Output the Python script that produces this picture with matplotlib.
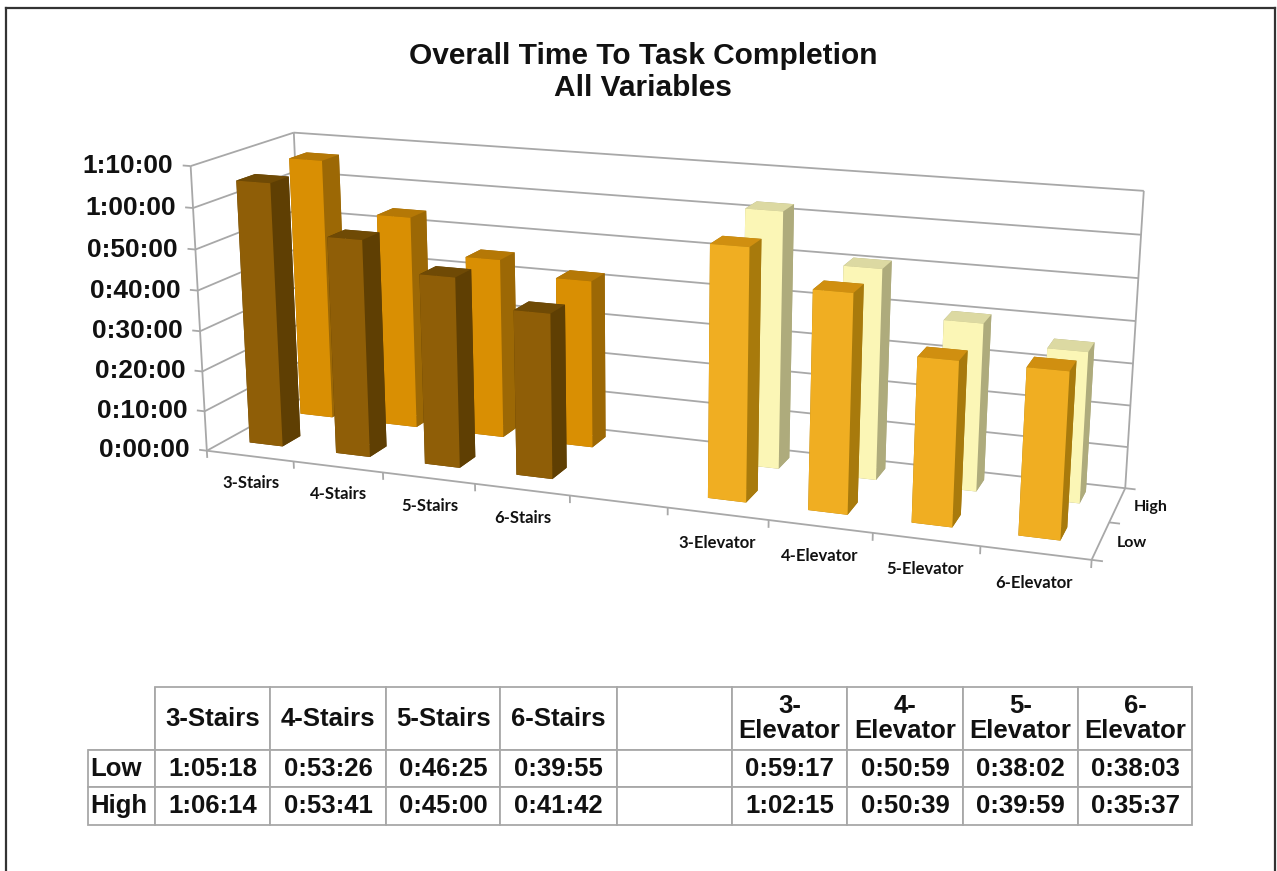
import numpy as np
import matplotlib
matplotlib.use("Agg")
import matplotlib.pyplot as plt
from matplotlib.lines import Line2D
from mpl_toolkits.mplot3d.art3d import Line3DCollection

plt.rcParams['font.family'] = ['Liberation Sans', 'DejaVu Sans']

# table / chart data
categories = ['3-Stairs', '4-Stairs', '5-Stairs', '6-Stairs', '',
              '3-Elevator', '4-Elevator', '5-Elevator', '6-Elevator']
series_names = ['Low', 'High']
low_times = ['1:05:18', '0:53:26', '0:46:25', '0:39:55', '',
             '0:59:17', '0:50:59', '0:38:02', '0:38:03']
high_times = ['1:06:14', '0:53:41', '0:45:00', '0:41:42', '',
              '1:02:15', '0:50:39', '0:39:59', '0:35:37']
axis_ticks = ['0:00:00', '0:10:00', '0:20:00', '0:30:00',
              '0:40:00', '0:50:00', '1:00:00', '1:10:00']


def to_seconds(t):
    h, m, s = t.split(':')
    return int(h) * 3600 + int(m) * 60 + int(s)


# colours: (front, top, side)
colors = {
    ('stairs', 'Low'): ('#8f5e07', '#6f4a05', '#5f3f03'),
    ('stairs', 'High'): ('#d98f03', '#b57806', '#9c6805'),
    ('elev', 'Low'): ('#f0ae22', '#d08f10', '#a87a0c'),
    ('elev', 'High'): ('#fbf6b6', '#dcd9a2', '#aeab7c'),
}

W, H = 1277, 871
zmax = to_seconds(axis_ticks[-1])
nx = len(categories)

fig = plt.figure(figsize=(W / 100, H / 100), dpi=100, facecolor='white')
ax = fig.add_axes([0, 0, 1, 1], projection='3d', computed_zorder=False)
ax.set_axis_off()
ax.patch.set_visible(False)
ax.set_xticks([])
ax.set_yticks([])
ax.set_zticks([])

# the Excel chart's camera: fit a projective map to where the box corners
# and the category ticks land
box = [(0, 0, 0), (nx, 0, 0), (0, 2, 0), (nx, 2, 0),
       (0, 0, zmax), (nx, 0, zmax), (0, 2, zmax), (nx, 2, zmax),
       (1, 0, 0), (2, 0, 0), (3, 0, 0), (4, 0, 0),
       (5, 0, 0), (6, 0, 0), (7, 0, 0), (8, 0, 0)]
pix = [(207, 450), (1093, 559), (307, 402), (1125, 486),
       (192, 163), (1111, 244), (293, 132), (1143, 187),
       (293, 460), (383, 472), (474, 484), (568, 495),
       (667, 507), (768, 520), (873, 533), (982, 546)]
A, b = [], []
for (x, y, z), (u, v) in zip(box, pix):
    A.append([x, y, z, 1, 0, 0, 0, 0, -u * x, -u * y, -u * z])
    A.append([0, 0, 0, 0, x, y, z, 1, -v * x, -v * y, -v * z])
    b += [u, v]
h = np.linalg.lstsq(np.array(A, float), np.array(b, float), rcond=None)[0]
M = np.array([h[0:4], h[4:8],
              [-0.1, 1.0, -0.2 / zmax, 0.0],
              [h[8], h[9], h[10], 1.0]])
ax.get_proj = lambda: M
ax.apply_aspect = lambda position=None: None
ax._viewLim.intervalx = (0, W)
ax._viewLim.intervaly = (H, 0)


def label(x, y, z, s, **kw):
    p = M @ np.array([x, y, z, 1.0])
    ax.text2D(p[0] / p[3], p[1] / p[3], s, transform=ax.transData,
              fontweight='bold', color='#111111', **kw)


grid = '#a8a8a8'
lw = 1.3

# walls, gridlines
segs = []
for t in axis_ticks:
    z = to_seconds(t)
    segs.append([(0, 0, z), (0, 2, z)])
    segs.append([(0, 2, z), (nx, 2, z)])
    segs.append([(-0.09, 0, z), (0, 0, z)])
    label(-0.2, 0, z - 25, t, ha='right', va='center', fontsize=19)
segs.append([(0, 0, 0), (0, 0, zmax)])
segs.append([(0, 2, 0), (0, 2, zmax)])
segs.append([(nx, 2, 0), (nx, 2, zmax)])
segs.append([(0, 0, 0), (nx, 0, 0)])
segs.append([(nx, 0, 0), (nx, 2, 0)])
for i in range(nx + 1):
    segs.append([(i, 0, 0), (i, 0, -110)])
for j in range(3):
    segs.append([(nx, j, 0), (nx + 0.1, j, 0)])
ax.add_collection3d(Line3DCollection(segs, colors=grid, linewidths=lw, zorder=1))

# bars, back row first
bar_w = 0.385
bar_x = 0.27
bar_d = 0.36
bar_y = {'Low': 0.38, 'High': 1.42}
rows = [('High', high_times, 2), ('Low', low_times, 3)]
for name, times, zo in rows:
    for i, t in enumerate(times):
        if t == '':
            continue
        kind = 'stairs' if 'Stairs' in categories[i] else 'elev'
        front, top, side = colors[(kind, name)]
        # face order of bar3d: bottom, top, front, back, left, right
        faces = [side, top, front, side, side, side]
        art = ax.bar3d(i + bar_x, bar_y[name], 0, bar_w, bar_d, to_seconds(t),
                       color=faces, shade=False, linewidth=0.4, edgecolor=None)
        art.set_zorder(zo)

# axis labels
for i, c in enumerate(categories):
    if c:
        label(i + 0.5, 0, -410, c, ha='center', va='center',
              family=['Lato', 'DejaVu Sans'], fontsize=12)
for j, s in enumerate(series_names):
    label(nx + 0.15, j + 0.5, 0, s, ha='left', va='center',
          family=['Lato', 'DejaVu Sans'], fontsize=11.5)

fig.text(643 / W, 1 - 72 / H, 'Overall Time To Task Completion\nAll Variables',
         ha='center', va='center', fontsize=21.5, fontweight='bold',
         color='#111111', linespacing=1.2)

# data table
col_edges = np.array([88, 155, 270, 386, 500, 617, 732, 847, 963, 1078, 1192])
row_edges = np.array([687, 750, 787, 825])
tax = fig.add_axes([col_edges[0] / W, 1 - row_edges[-1] / H,
                    (col_edges[-1] - col_edges[0]) / W,
                    (row_edges[-1] - row_edges[0]) / H])
tax.axis('off')
header = [''] + [c.replace('-E', '-\nE') for c in categories]
cells = [header, ['Low'] + low_times, ['High'] + high_times]
tab = tax.table(cellText=cells, cellLoc='center', bbox=[0, 0, 1, 1],
                colWidths=list(np.diff(col_edges) / np.ptp(col_edges)))
tab.auto_set_font_size(False)
tab.set_fontsize(18.5)
heights = np.diff(row_edges) / np.ptp(row_edges)
for (r, c), cell in tab.get_celld().items():
    cell.set_height(heights[r])
    cell.set_edgecolor(grid)
    cell.set_linewidth(lw)
    cell.get_text().set_fontweight('bold')
    cell.get_text().set_color('#111111')
    cell.get_text().set_linespacing(1.1)
    if c == 0:
        cell.get_text().set_ha('left')
        cell.PAD = 0.03
    if r == 0 and c == 0:
        cell.visible_edges = 'BR'

# frame of the pasted picture
for xs, ys in [([6, 6], [8, H]), ([6, 1275], [8, 8]), ([1275, 1275], [8, H])]:
    fig.add_artist(Line2D(np.array(xs) / W, 1 - np.array(ys) / H,
                          color='#333333', lw=1.6))

fig.savefig('out.png', dpi=100)
